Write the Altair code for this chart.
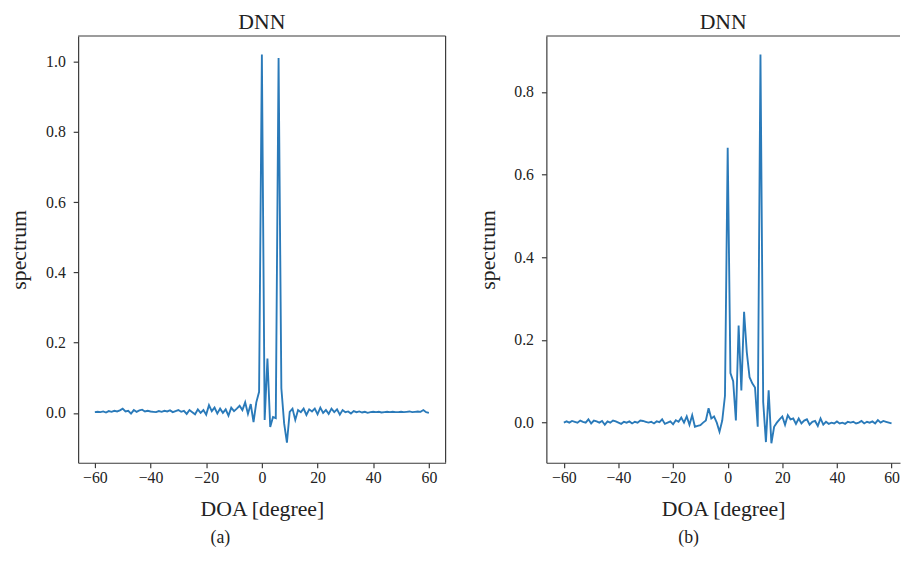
import altair as alt
import pandas as pd

doa = list(range(-60, 61))

left_vals = [
    0.002, 0.003, 0.002, 0.004, 0.001, 0.005, 0.003, 0.006, 0.004, 0.007,
    0.012, 0.004, 0.006, -0.002, 0.008, 0.003, 0.007, 0.009, 0.004, 0.006,
    0.004, 0.003, 0.002, 0.005, 0.003, 0.006, 0.004, 0.007, 0.002, 0.005,
    0.008, 0.003, 0.006, -0.003, 0.008, 0.002, -0.004, 0.010, 0.000, 0.008,
    -0.005, 0.022, 0.005, 0.015, -0.002, 0.012, 0.000, 0.010, -0.008, 0.015,
    0.005, 0.012, 0.020, 0.008, 0.030, -0.003, 0.025, -0.026, 0.030, 0.060,
    1.02, -0.02, 0.155, -0.04, -0.012, -0.015, 1.01, 0.07, -0.03, -0.085,
    0.003, 0.012, -0.02, 0.008, 0.002, 0.012, -0.006, 0.010, 0.004, 0.012, -0.004,
    0.015, 0.000, 0.008, -0.003, 0.012, 0.002, 0.010, -0.005, 0.008, 0.002,
    0.004, -0.002, 0.005, 0.002, 0.004, 0.001, 0.003, 0.000, 0.002, 0.003,
    0.002, 0.003, 0.001, 0.002, 0.003, 0.002, 0.003, 0.002, 0.002, 0.003,
    0.002, 0.003, 0.004, 0.002, 0.003, 0.004, 0.003, 0.008, 0.002, 0.000,
]

right_vals = [
    0.000, 0.003, 0.000, 0.004, 0.002, 0.000, 0.005, 0.002, 0.000, 0.008,
    -0.002, 0.005, 0.003, 0.000, 0.004, -0.005, 0.003, 0.000, 0.005, 0.003,
    0.000, -0.003, 0.002, 0.000, 0.003, -0.002, 0.002, 0.000, 0.005, 0.004,
    0.002, 0.000, 0.002, -0.002, 0.003, 0.001, 0.008, -0.003, 0.000, 0.003,
    -0.004, 0.006, 0.002, 0.012, 0.000, 0.015, -0.005, 0.018, -0.010, -0.008,
    -0.006, 0.000, 0.005, 0.035, 0.010, 0.015, 0.000, -0.022, 0.005, 0.065,
    0.665, 0.12, 0.10, 0.005, 0.235, 0.078, 0.268, 0.17, 0.11, 0.095,
    0.085, -0.01, 0.89, 0.05, -0.047, 0.078, -0.05, -0.01, 0.000, 0.008, 0.015,
    -0.005, 0.018, 0.008, 0.010, -0.003, 0.010, -0.002, 0.005, 0.008, -0.005,
    0.002, 0.004, -0.008, 0.010, -0.005, 0.002, -0.003, 0.000, -0.002, 0.003,
    -0.002, 0.000, -0.003, 0.002, 0.000, 0.002, -0.002, 0.000, 0.004, -0.002,
    0.002, 0.000, 0.003, -0.002, 0.006, 0.000, 0.004, 0.002, 0.000, -0.002,
]

x_ticks = [-60, -40, -20, 0, 20, 40, 60]
left_yticks = [0.0, 0.2, 0.4, 0.6, 0.8, 1.0]
right_yticks = [0.0, 0.2, 0.4, 0.6, 0.8]
panel_title = "DNN"
captions = ["(a)", "(b)"]

FONT = "Liberation Serif"
LINE = "#2a7ab9"
SPINE = "#3a3a3a"


def panel(vals, xdom, ydom, yticks, caption, W, H, right_spine):
    df = pd.DataFrame({"doa": doa, "spectrum": vals})
    xaxis = alt.Axis(values=x_ticks, title="DOA [degree]", grid=False,
                     tickSize=5, tickColor=SPINE, domainColor=SPINE,
                     labelFontSize=16, titleFontSize=22, labelPadding=2,
                     titlePadding=13, labelFont=FONT, titleFont=FONT,
                     titleFontWeight="normal", labelColor="#222",
                     titleColor="#222")
    yaxis = alt.Axis(values=yticks, format=".1f", title="spectrum", grid=False,
                     tickSize=5, tickColor=SPINE, domainColor=SPINE,
                     labelFontSize=16, titleFontSize=22, labelPadding=8,
                     titlePadding=15, labelFont=FONT, titleFont=FONT,
                     titleFontWeight="normal", labelColor="#222",
                     titleColor="#222")
    line = alt.Chart(df).mark_line(color=LINE, strokeWidth=1.9, clip=True).encode(
        x=alt.X("doa:Q", scale=alt.Scale(domain=xdom, nice=False, zero=False),
                axis=xaxis),
        y=alt.Y("spectrum:Q", scale=alt.Scale(domain=ydom, nice=False, zero=False),
                axis=yaxis),
    )
    one = pd.DataFrame({"t": [caption]})
    top = alt.Chart(one).mark_rule(color=SPINE, strokeWidth=1.2).encode(
        x=alt.value(0), x2=alt.value(W), y=alt.value(0))
    layers = [line, top]
    if right_spine:
        rs = alt.Chart(one).mark_rule(color=SPINE, strokeWidth=1.2).encode(
            x=alt.value(W), y=alt.value(0), y2=alt.value(H))
        layers.append(rs)
    cap = alt.Chart(one).mark_text(font=FONT, fontSize=18, color="#222").encode(
        text="t:N", x=alt.value(144), y=alt.value(508))
    layers.append(cap)
    return alt.layer(*layers).properties(
        width=W, height=H,
        title=alt.TitleParams(panel_title, font=FONT, fontSize=22,
                              fontWeight="normal", color="#222", offset=1),
    )


left = panel(left_vals, [-66, 66], [-0.142, 1.073], left_yticks, captions[0],
             372, 432, True)
right = panel(right_vals, [-66.4, 63.1], [-0.097, 0.935], right_yticks, captions[1],
              358, 432, False)

chart = alt.hconcat(left, right, spacing=30).properties(
    padding={"left": 0, "top": 0, "right": 0, "bottom": 0}
).configure_view(stroke=None).configure_axis(
    domainWidth=1.2, tickWidth=1.2)

chart.save("out.html", embed_options={"renderer": "svg", "actions": False})
